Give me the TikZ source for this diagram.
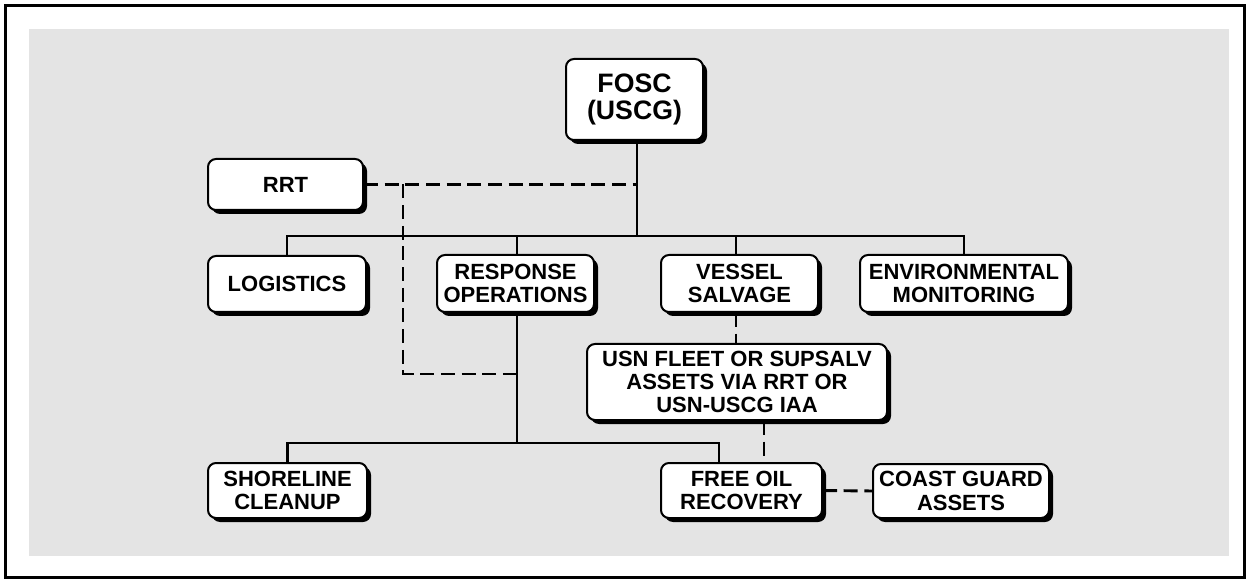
\documentclass[tikz,border=0pt]{standalone}
\usepackage{fontspec}
\setmainfont{Liberation Sans}
\usetikzlibrary{shadows}
\definecolor{bggray}{RGB}{228,228,228}
\tikzset{
  box/.style={draw=black, line width=1.5pt, fill=white, rounded corners=6pt,
    drop shadow={shadow xshift=3pt, shadow yshift=-3pt, opacity=1, fill=black},
    align=center, inner sep=0pt, font=\fontsize{16.5}{17.5}\selectfont\bfseries},
  bigbox/.style={box, font=\fontsize{20}{20.5}\selectfont\bfseries},
  conn/.style={line width=2.2pt},
  dconn/.style={line width=2.2pt, dash pattern=on 10.5pt off 5pt}
}
\begin{document}
\begin{tikzpicture}[x=0.75pt, y=-0.75pt]
\useasboundingbox (0,0) rectangle (1248,580);
\draw[line width=2.25pt] (5.5,5.5) rectangle (1244,577.5);
\fill[bggray] (29,29) rectangle (1229,556);

% nodes
\node[bigbox, minimum width=102.75pt, minimum height=60.75pt] (fosc) at (634.5,99.5) {FOSC\\(USCG)};
\node[box, minimum width=116.25pt, minimum height=38.25pt] (rrt) at (285.5,184.5) {RRT};
\node[box, minimum width=118.5pt, minimum height=42pt] (log) at (287,284) {LOGISTICS};
\node[box, minimum width=117.75pt, minimum height=42.75pt] (resp) at (515.5,283.5) {RESPONSE\\OPERATIONS};
\node[box, minimum width=117.75pt, minimum height=42.75pt] (ves) at (739.5,283.5) {VESSEL\\SALVAGE};
\node[box, minimum width=156pt, minimum height=42.75pt] (env) at (964,283.5) {ENVIRONMENTAL\\MONITORING};
\node[box, minimum width=225pt, minimum height=57pt] (usn) at (737,382) {USN FLEET OR SUPSALV\\ASSETS VIA RRT OR\\USN-USCG IAA};
\node[box, minimum width=119.25pt, minimum height=41.25pt] (shore) at (287.5,490.5) {SHORELINE\\CLEANUP};
\node[box, minimum width=120.75pt, minimum height=41.25pt] (free) at (741.5,490.5) {FREE OIL\\RECOVERY};
\node[box, minimum width=132pt, minimum height=40.5pt] (coast) at (961,491) {COAST GUARD\\ASSETS};

% junction coordinates
\coordinate (top) at (637,236);
\coordinate (rx) at (517,236);
\coordinate (vx) at (736,236);
\coordinate (dx) at (403,374);
\coordinate (rb) at (517,443);
\coordinate (fj) at (719,443);
\coordinate (ux) at (764,443);

% solid connectors
\draw[conn] (fosc.south -| top) -- (top);
\draw[conn] (log.north) -- (log.north |- top) -- (env.north |- top) -- (env.north);
\draw[conn] (rx) -- (rx |- resp.north);
\draw[conn] (vx) -- (vx |- ves.north);
\draw[conn] (resp.south -| rb) -- (rb);
\draw[conn] (shore.north) -- (shore.north |- rb) -- (fj) -- (fj |- free.north);

% dashed connectors
\draw[dconn] (rrt.east) -- (rrt.east -| top);
\draw[dconn] (rrt.east -| dx) -- (dx) -- (dx -| rb);
\draw[dconn] (ves.south -| vx) -- (usn.north -| vx);
\draw[dconn] (usn.south -| ux) -- (free.north -| ux);
\draw[dconn] (free.east) -- (coast.west);
\end{tikzpicture}
\end{document}
